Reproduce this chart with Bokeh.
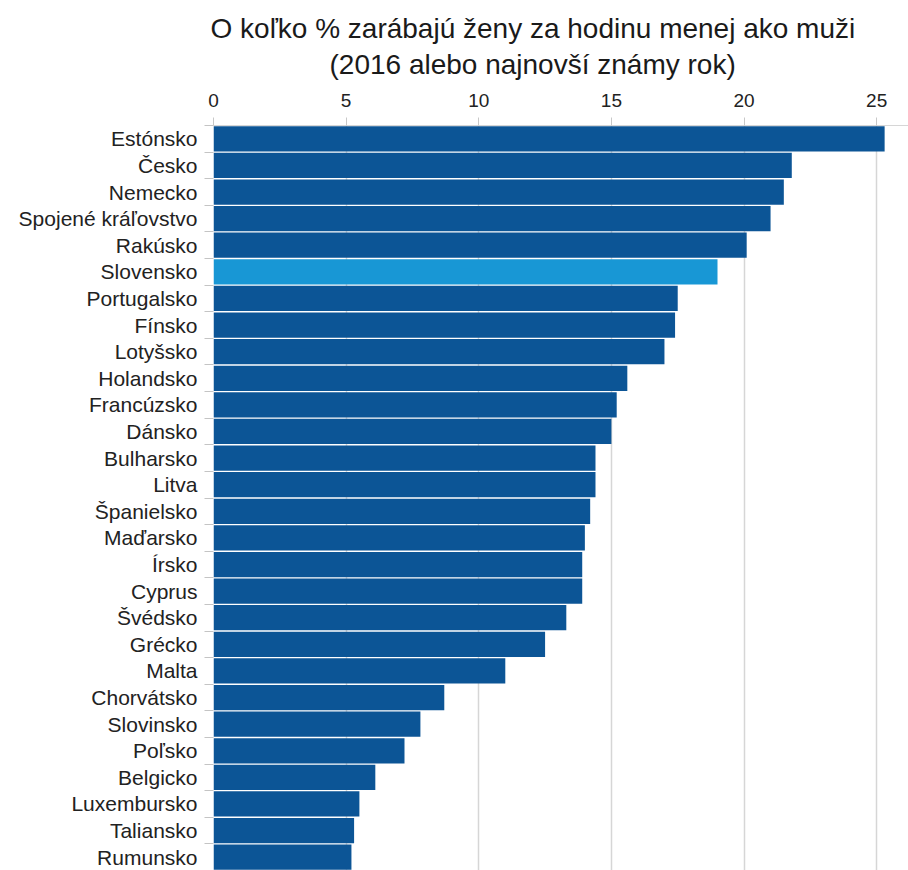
from bokeh.plotting import figure
from bokeh.models import Range1d, FixedTicker, Title, ColumnDataSource
from bokeh.embed import file_html
from bokeh.resources import INLINE

# ---- data ----
countries = [
    "Estónsko", "Česko", "Nemecko", "Spojené kráľovstvo", "Rakúsko", "Slovensko",
    "Portugalsko", "Fínsko", "Lotyšsko", "Holandsko", "Francúzsko", "Dánsko",
    "Bulharsko", "Litva", "Španielsko", "Maďarsko", "Írsko", "Cyprus", "Švédsko",
    "Grécko", "Malta", "Chorvátsko", "Slovinsko", "Poľsko", "Belgicko",
    "Luxembursko", "Taliansko", "Rumunsko",
]
values = [
    25.3, 21.8, 21.5, 21.0, 20.1, 19.0,
    17.5, 17.4, 17.0, 15.6, 15.2, 15.0,
    14.4, 14.4, 14.2, 14.0, 13.9, 13.9, 13.3,
    12.5, 11.0, 8.7, 7.8, 7.2, 6.1,
    5.5, 5.3, 5.2,
]
highlight = "Slovensko"
x_ticks = [0, 5, 10, 15, 20, 25]
title_line1 = "O koľko % zarábajú ženy za hodinu menej ako muži"
title_line2 = "(2016 alebo najnovší známy rok)"

DARK = "#0c5596"
LIGHT = "#1897d5"
FONT = "Liberation Sans"

n = len(countries)
ypos = [n - 1 - i for i in range(n)]
colors = [LIGHT if c == highlight else DARK for c in countries]
src = ColumnDataSource(dict(y=ypos, v=values, c=colors, name=countries))

p = figure(
    width=908, height=870, output_backend="svg", toolbar_location=None,
    x_range=Range1d(0, 26.2), y_range=Range1d(-0.5, n - 0.5),
    x_axis_location="above",
    min_border_left=213, min_border_top=125, min_border_right=0, min_border_bottom=0,
)
p.outline_line_color = None
p.background_fill_color = "white"

p.hbar(y="y", right="v", left=0, height=0.95, fill_color="c", line_color=None, source=src)

# grid
p.ygrid.visible = False
p.xgrid.ticker = FixedTicker(ticks=x_ticks)
p.xgrid.grid_line_color = "#d6d6d6"
p.xgrid.grid_line_width = 1.5

# x axis (top)
xa = p.xaxis[0]
xa.ticker = FixedTicker(ticks=x_ticks)
xa.major_label_text_font = FONT
xa.major_label_text_font_size = "19px"
xa.major_label_text_color = "#222222"
xa.axis_line_color = "#d6d6d6"
xa.major_tick_line_color = "#c8c8c8"
xa.major_tick_out = 8
xa.major_tick_in = 0
xa.minor_tick_line_color = None
xa.major_label_standoff = 11

# y axis (left)
ya = p.yaxis[0]
ya.ticker = FixedTicker(ticks=ypos, minor_ticks=[y + 0.5 for y in range(-1, n)])
ya.major_label_overrides = {y: c for y, c in zip(ypos, countries)}
ya.major_label_text_font = FONT
ya.major_label_text_font_size = "21px"
ya.major_label_text_color = "#222222"
ya.axis_line_color = None
ya.major_tick_out = 0
ya.major_tick_in = 0
ya.minor_tick_out = 9
ya.minor_tick_in = 0
ya.minor_tick_line_color = "#c4c4c4"
ya.major_label_standoff = 7

# title lines
p.title.text = title_line1
p.title.align = "left"
p.title.offset = -3
p.title.text_font = FONT
p.title.text_font_size = "28px"
p.title.text_font_style = "normal"
p.title.text_color = "#1a1a1a"
p.title.standoff = -14

sub = Title(text=title_line2, align="left", offset=116, text_font=FONT,
            text_font_size="28px", text_font_style="normal", text_color="#1a1a1a",
            standoff=21)
p.add_layout(sub, "above")

open("out.html", "w").write(file_html(p, INLINE))
